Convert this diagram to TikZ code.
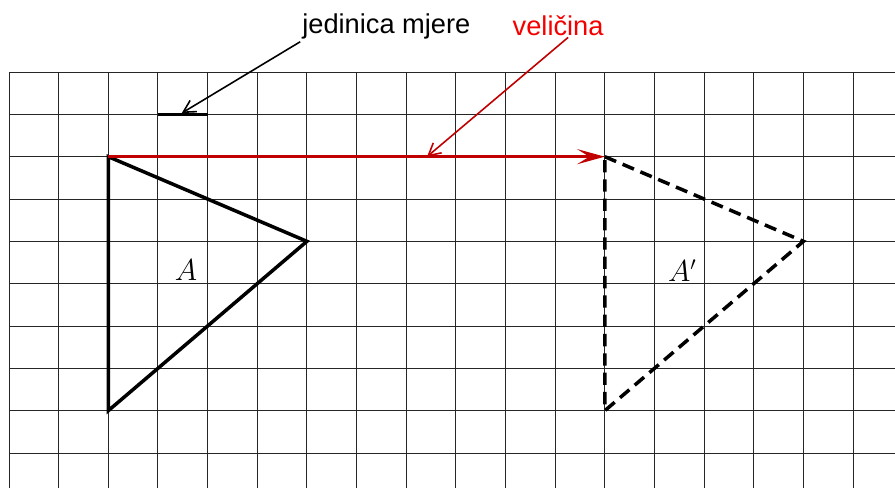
\documentclass[tikz,border=0pt]{standalone}
\usepackage{fontspec}
\usetikzlibrary{arrows.meta}
\newfontfamily\labelfont{Liberation Sans}
\definecolor{shiftred}{RGB}{192,0,0}
\definecolor{textred}{RGB}{245,0,0}
\tikzset{
  gridline/.style={line width=0.55pt, black!85},
  figure/.style={line width=2pt, line join=miter},
  image/.style={figure, dash pattern=on 7pt off 4pt},
  unitbar/.style={line width=1.9pt},
  shiftvec/.style={line width=2pt, shiftred, -{Stealth[length=5.5mm, width=3mm, inset=2.4mm]}},
  pointer/.style={line width=0.9pt, -{Straight Barb[length=2.4mm, width=2.6mm]}},
  callout/.style={font=\labelfont\fontsize{15.5}{18}\selectfont, inner sep=1pt},
  figname/.style={font=\fontsize{16}{18}\selectfont},
}

\begin{document}
\begin{tikzpicture}[x=0.993cm, y=0.8466cm]
  \useasboundingbox (-0.181,-9.828) rectangle (17.845,1.701);

  % squared paper
  \foreach \i in {0,...,17}
    \draw[gridline] (\i,0) -- (\i,-9.828);
  \foreach \j in {0,...,9}
    \draw[gridline] (0,-\j) -- (17.845,-\j);

  \coordinate (a1) at (2,-2);
  \coordinate (a2) at (6,-4);
  \coordinate (a3) at (2,-8);
  \coordinate (b1) at (12,-2);
  \coordinate (b2) at (16,-4);
  \coordinate (b3) at (12,-8);
  \coordinate (u1) at (3,-1);
  \coordinate (u2) at (4,-1);
  \coordinate (unittip) at (3.48,-0.97);
  \coordinate (sizetip) at (8.42,-2);

  \draw[figure] (a1) -- (a2) -- (a3) -- cycle;
  \draw[image] (b1) -- (b2) -- (b3) -- cycle;
  \draw[unitbar] (u1) -- (u2);
  \draw[shiftvec] (a1) -- (b1);

  \node[figname] (A) at (3.565,-4.678) {$A$};
  \node[figname] (Aimg) at (13.56,-4.70) {$A'$};

  \node[callout, anchor=base] (unit) at (7.60,0.898) {jedinica mjere};
  \node[callout, text=textred, anchor=base] (size) at (11.06,0.874) {veličina};

  \draw[pointer] (unit.south west) -- (unittip);
  \draw[pointer, shiftred] ([xshift=2mm]size.south) -- (sizetip);
\end{tikzpicture}
\end{document}
